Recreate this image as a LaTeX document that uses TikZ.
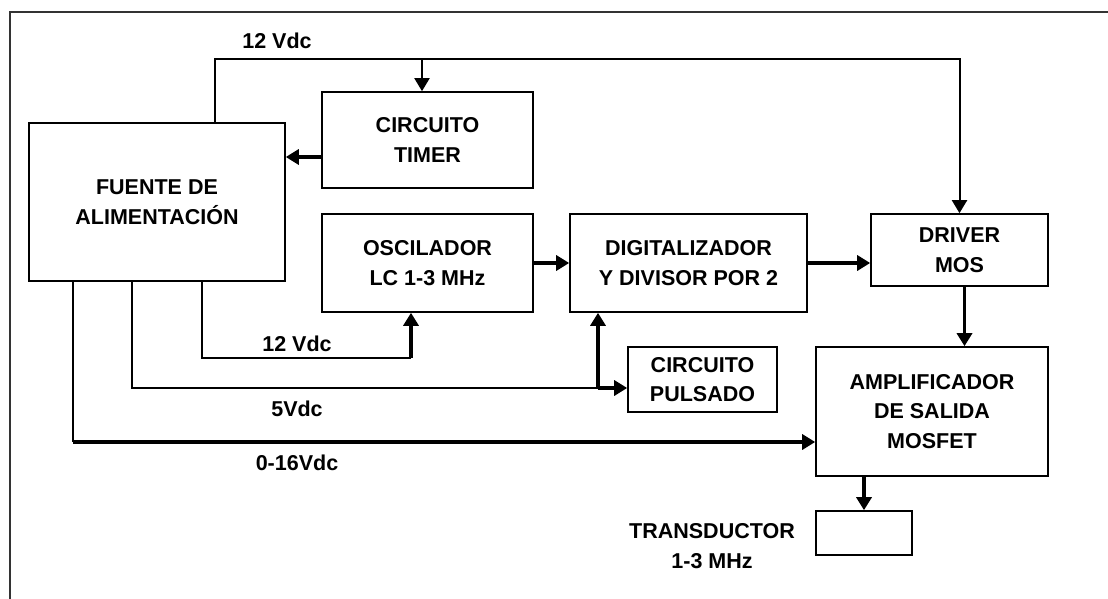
\documentclass[tikz,border=0pt]{standalone}
\usepackage{fontspec}
\setmainfont{Liberation Sans}
\usepackage{tikz}
\usetikzlibrary{arrows.meta,positioning}
\newcommand{\boxfont}{\fontsize{21.5}{29.5}\selectfont\bfseries}
\begin{document}
\begin{tikzpicture}[x=1pt, y=-1pt,
  block/.style={draw, line width=1.6pt, inner sep=0pt, align=center,
    font=\boxfont},
  tag/.style={inner sep=0pt, align=center, font=\boxfont},
  wire/.style={line width=2pt},
  bold/.style={line width=3.6pt},
  tip/.style={-{Triangle[length=13pt,width=15pt]}}]
\useasboundingbox (0,0) rectangle (1108,599);
\draw[line width=1.5pt, black!80] (10,599) |- (1108,12);
\node (fuente) [block, minimum width=256pt, minimum height=158pt]
  at (157,202) {FUENTE DE\\ALIMENTACIÓN};
\node (timer) [block, minimum width=211pt, minimum height=96pt]
  at (427.5,140) {CIRCUITO\\TIMER};
\node (osc) [block, minimum width=211pt, minimum height=98pt]
  at (427.5,263) {OSCILADOR\\LC 1-3 MHz};
\node (dig) [block, minimum width=237pt, minimum height=98pt]
  at (688.5,263) {DIGITALIZADOR\\Y DIVISOR POR 2};
\node (driver) [block, minimum width=177pt, minimum height=72pt]
  at (959.5,250) {DRIVER\\MOS};
\node (pulsado) [block, minimum width=149pt, minimum height=65pt]
  at (702.5,379.5) {CIRCUITO\\PULSADO};
\node (amp) [block, minimum width=232pt, minimum height=129pt]
  at (932,411.5) {AMPLIFICADOR\\DE SALIDA\\MOSFET};
\node (transd) [block, minimum width=96pt, minimum height=44pt]
  at (864,533) {};
\node (transdtag) [tag] at (712,546) {TRANSDUCTOR\\1-3 MHz};
\coordinate (bus) at (215,59);
\coordinate (tap) at (422,59);
\coordinate (back) at (322,157);
\coordinate (s12) at (202,358);
\coordinate (k12) at (411,358);
\coordinate (s5) at (132,388);
\coordinate (k5) at (598,388);
\coordinate (s0) at (73,442);
\draw[wire, tip] (bus |- fuente.north) -- (bus) -| (driver.north);
\draw[wire, tip] (tap) -- (tap |- timer.north);
\node (v12top) [tag] at (277,41) {12 Vdc};
\draw[bold, tip] (back) -- (fuente.east |- back);
\draw[bold, tip] (osc.east) -- (dig.west);
\draw[bold, tip] (dig.east) -- (driver.west |- dig.east);
\draw[bold, tip] ([xshift=5pt]driver.south) -- ([xshift=5pt]driver.south |- amp.north);
\draw[bold, tip] (transd.north |- amp.south) -- (transd.north);
\draw[wire] (s12 |- fuente.south) |- (k12);
\draw[bold, tip] (k12) -- (k12 |- osc.south);
\node (v12) [tag] at (297,344) {12 Vdc};
\draw[wire] (s5 |- fuente.south) |- (k5);
\draw[bold, tip] (k5) -- (k5 |- dig.south);
\draw[bold, tip] (k5) -- (pulsado.west |- k5);
\node (v5) [tag] at (297,408.5) {5Vdc};
\draw[wire] (s0 |- fuente.south) -- (s0);
\draw[bold, tip] (s0) -- (amp.west |- s0);
\node (v016) [tag] at (297,463) {0-16Vdc};
\end{tikzpicture}
\end{document}
